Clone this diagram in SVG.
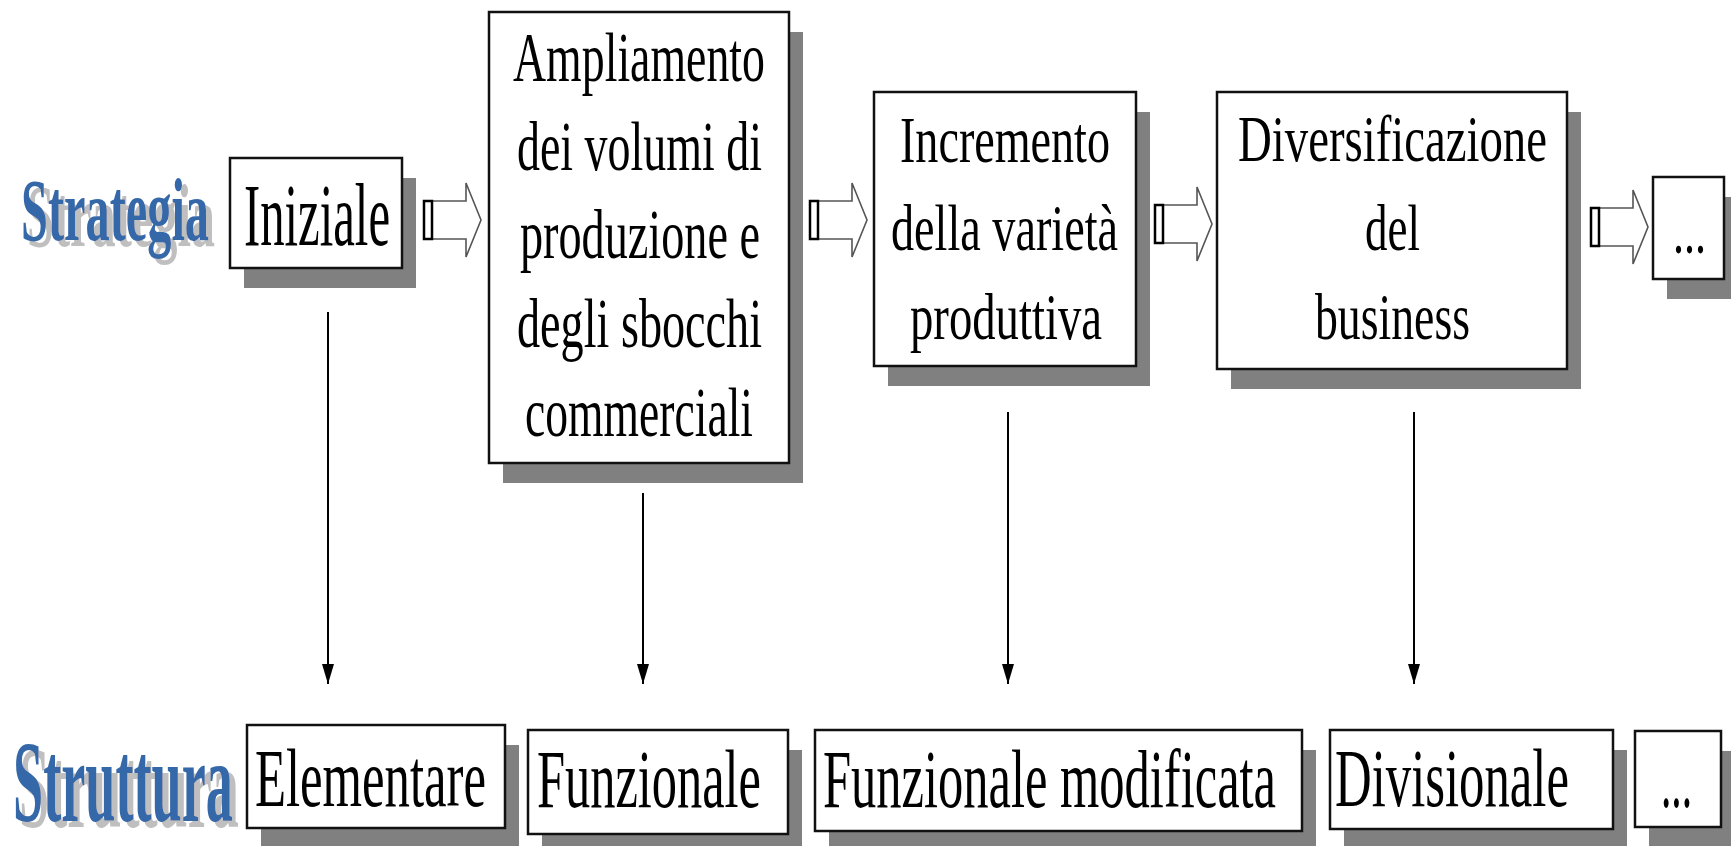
<svg xmlns="http://www.w3.org/2000/svg" width="1731" height="846" viewBox="0 0 1731 846">
<style>
.box{fill:#ffffff;stroke:#111111;stroke-width:2.5}
.sh{fill:#808080}
.t{font-family:"Liberation Serif","Times New Roman",serif;fill:#000000}
.tt{font-size:70px}
.tb{font-size:82px}
.ttl{font-family:"Liberation Serif","Times New Roman",serif;font-weight:bold;fill:#3568a8;filter:url(#ts)}
.conn{stroke:#000000;stroke-width:2;fill:none}
</style>
<defs>
<filter id="ts" x="-5%" y="-10%" width="115%" height="130%">
<feOffset in="SourceAlpha" dx="6" dy="6" result="o"/>
<feFlood flood-color="#bfbfbf"/>
<feComposite in2="o" operator="in" result="s"/>
<feMerge><feMergeNode in="s"/><feMergeNode in="SourceGraphic"/></feMerge>
</filter>
<marker id="ah" markerUnits="userSpaceOnUse" viewBox="0 -6 20 12" refX="20" refY="0" markerWidth="20" markerHeight="12" orient="auto">
<path d="M0,-6 L20,0 L0,6 z" fill="#000000"/>
</marker>
<g id="fat">
<path d="M8,-19 H42 V-37 L57,0 L42,37 V19 H8 Z" fill="#ffffff" stroke="#555555" stroke-width="1.6" stroke-linejoin="miter"/>
<rect x="0" y="-19" width="8" height="38" fill="#ffffff" stroke="#000000" stroke-width="2.5"/>
</g>
</defs>

<g id="label-strategia">
<text class="ttl" x="21" y="240" font-size="88" textLength="188" lengthAdjust="spacingAndGlyphs">Strategia</text>
</g>
<g id="label-struttura">
<text class="ttl" x="13" y="821" font-size="116" textLength="220" lengthAdjust="spacingAndGlyphs">Struttura</text>
</g>

<g id="s1">
<rect class="sh" x="244" y="178" width="172" height="110"/>
<rect class="box" x="230" y="158" width="172" height="110"/>
<text class="t" x="244" y="245" font-size="88" textLength="146" lengthAdjust="spacingAndGlyphs">Iniziale</text>
</g>

<g id="s2">
<rect class="sh" x="503" y="32" width="300" height="451"/>
<rect class="box" x="489" y="12" width="300" height="451"/>
<text class="t tt" x="513" y="81" textLength="252" lengthAdjust="spacingAndGlyphs">Ampliamento</text>
<text class="t tt" x="517" y="170" textLength="245" lengthAdjust="spacingAndGlyphs">dei volumi di</text>
<text class="t tt" x="520" y="258" textLength="240" lengthAdjust="spacingAndGlyphs">produzione e</text>
<text class="t tt" x="517" y="347" textLength="245" lengthAdjust="spacingAndGlyphs">degli sbocchi</text>
<text class="t tt" x="525" y="436" textLength="228" lengthAdjust="spacingAndGlyphs">commerciali</text>
</g>

<g id="s3">
<rect class="sh" x="888" y="112" width="262" height="274"/>
<rect class="box" x="874" y="92" width="262" height="274"/>
<text class="t" x="900" y="162" font-size="66" textLength="210" lengthAdjust="spacingAndGlyphs">Incremento</text>
<text class="t" x="891" y="250" font-size="66" textLength="227" lengthAdjust="spacingAndGlyphs">della varietà</text>
<text class="t" x="910" y="339" font-size="66" textLength="192" lengthAdjust="spacingAndGlyphs">produttiva</text>
</g>

<g id="s4">
<rect class="sh" x="1231" y="112" width="350" height="277"/>
<rect class="box" x="1217" y="92" width="350" height="277"/>
<text class="t" x="1238" y="161" font-size="66" textLength="309" lengthAdjust="spacingAndGlyphs">Diversificazione</text>
<text class="t" x="1365" y="250" font-size="66" textLength="55" lengthAdjust="spacingAndGlyphs">del</text>
<text class="t" x="1315" y="339" font-size="66" textLength="155" lengthAdjust="spacingAndGlyphs">business</text>
</g>

<g id="s5">
<rect class="sh" x="1667" y="197" width="71" height="102"/>
<rect class="box" x="1653" y="177" width="71" height="102"/>
<text class="t" x="1673" y="253" font-size="66" textLength="33" lengthAdjust="spacingAndGlyphs">...</text>
</g>

<g id="f1">
<rect class="sh" x="261" y="745" width="258" height="103"/>
<rect class="box" x="247" y="725" width="258" height="103"/>
<text class="t tb" x="255" y="806" textLength="231" lengthAdjust="spacingAndGlyphs">Elementare</text>
</g>
<g id="f2">
<rect class="sh" x="542" y="750" width="260" height="104"/>
<rect class="box" x="528" y="730" width="260" height="104"/>
<text class="t tb" x="537" y="807" textLength="224" lengthAdjust="spacingAndGlyphs">Funzionale</text>
</g>
<g id="f3">
<rect class="sh" x="829" y="750" width="487" height="101"/>
<rect class="box" x="815" y="730" width="487" height="101"/>
<text class="t tb" x="823" y="807" textLength="453" lengthAdjust="spacingAndGlyphs">Funzionale modificata</text>
</g>
<g id="f4">
<rect class="sh" x="1344" y="750" width="283" height="99"/>
<rect class="box" x="1330" y="730" width="283" height="99"/>
<text class="t tb" x="1335" y="806" textLength="234" lengthAdjust="spacingAndGlyphs">Divisionale</text>
</g>
<g id="f5">
<rect class="sh" x="1649" y="751" width="86" height="96"/>
<rect class="box" x="1635" y="731" width="86" height="96"/>
<text class="t tb" x="1661" y="807" textLength="31" lengthAdjust="spacingAndGlyphs">...</text>
</g>

<g id="connectors">
<use href="#fat" x="424" y="220"/>
<use href="#fat" x="810" y="220"/>
<use href="#fat" x="1155" y="224"/>
<use href="#fat" x="1591" y="227"/>
<line class="conn" x1="328" y1="312" x2="328" y2="684" marker-end="url(#ah)"/>
<line class="conn" x1="643" y1="493" x2="643" y2="684" marker-end="url(#ah)"/>
<line class="conn" x1="1008" y1="412" x2="1008" y2="684" marker-end="url(#ah)"/>
<line class="conn" x1="1414" y1="412" x2="1414" y2="684" marker-end="url(#ah)"/>
</g>
</svg>
